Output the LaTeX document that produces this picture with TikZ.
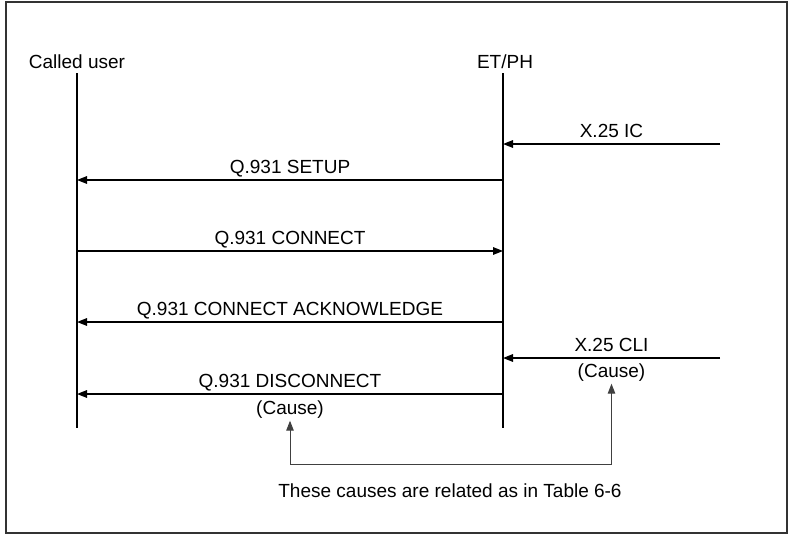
\documentclass[tikz,border=0pt]{standalone}
\usepackage{fontspec}
\setmainfont{Liberation Sans}
\usetikzlibrary{arrows.meta}

\begin{document}
\begin{tikzpicture}[x=1pt,y=-1pt,>={Triangle[length=10pt,width=7.5pt]},
  life/.style={line width=1.1pt},
  msg/.style={->,line width=1.5pt},
  rel/.style={<->,line width=1pt,black!75},
  lbl/.style={font=\fontsize{19}{22}\selectfont,inner sep=0pt}]
  \useasboundingbox (0,0) rectangle (789,535);
  \draw[line width=1.2pt,black!80] (6,2) rectangle (787,533);
  % Entities and lifelines
  \node[lbl] (user) at (77,62) {Called user};
  \node[lbl] (etph) at (505,62) {ET/PH};
  \coordinate (uTop) at (77,73);  \coordinate (uBot) at (77,428);
  \coordinate (eTop) at (503,73); \coordinate (eBot) at (503,428);
  \draw[life] (uTop) -- (uBot);
  \draw[life] (eTop) -- (eBot);
  % Message rows: user side, ET/PH side, X.25 side
  \foreach \n/\y in {ic/144,setup/180,conn/251,ack/322,cli/358,disc/394} {
    \coordinate (u-\n) at (77,\y);
    \coordinate (e-\n) at (503,\y);
    \coordinate (x-\n) at (720,\y);}
  \draw[msg] (x-ic) -- node[lbl,anchor=base,yshift=7pt] (icl) {X.25 IC} (e-ic);
  \draw[msg] (e-setup) -- node[lbl,anchor=base,yshift=7pt] (setupl) {Q.931 SETUP} (u-setup);
  \draw[msg] (u-conn) -- node[lbl,anchor=base,yshift=7pt] (connl) {Q.931 CONNECT} (e-conn);
  \draw[msg] (e-ack) -- node[lbl,anchor=base,yshift=7pt] (ackl) {Q.931 CONNECT ACKNOWLEDGE} (u-ack);
  \draw[msg] (x-cli) -- node[lbl,anchor=base,yshift=7pt] (clil) {X.25 CLI}
    node[lbl,anchor=base,yshift=-19pt,inner sep=2pt] (ccause) {(Cause)} (e-cli);
  \draw[msg] (e-disc) -- node[lbl,anchor=base,yshift=7pt] (discl) {Q.931 DISCONNECT}
    node[lbl,anchor=base,yshift=-20pt,inner sep=2pt] (dcause) {(Cause)} (u-disc);
  % Relation of the two causes
  \coordinate (brk) at (0,464);
  \draw[rel] (dcause.south) -- (dcause.south |- brk) -| (ccause.south);
  \node[lbl] (note) at (450,491) {These causes are related as in Table 6-6};
\end{tikzpicture}
\end{document}
